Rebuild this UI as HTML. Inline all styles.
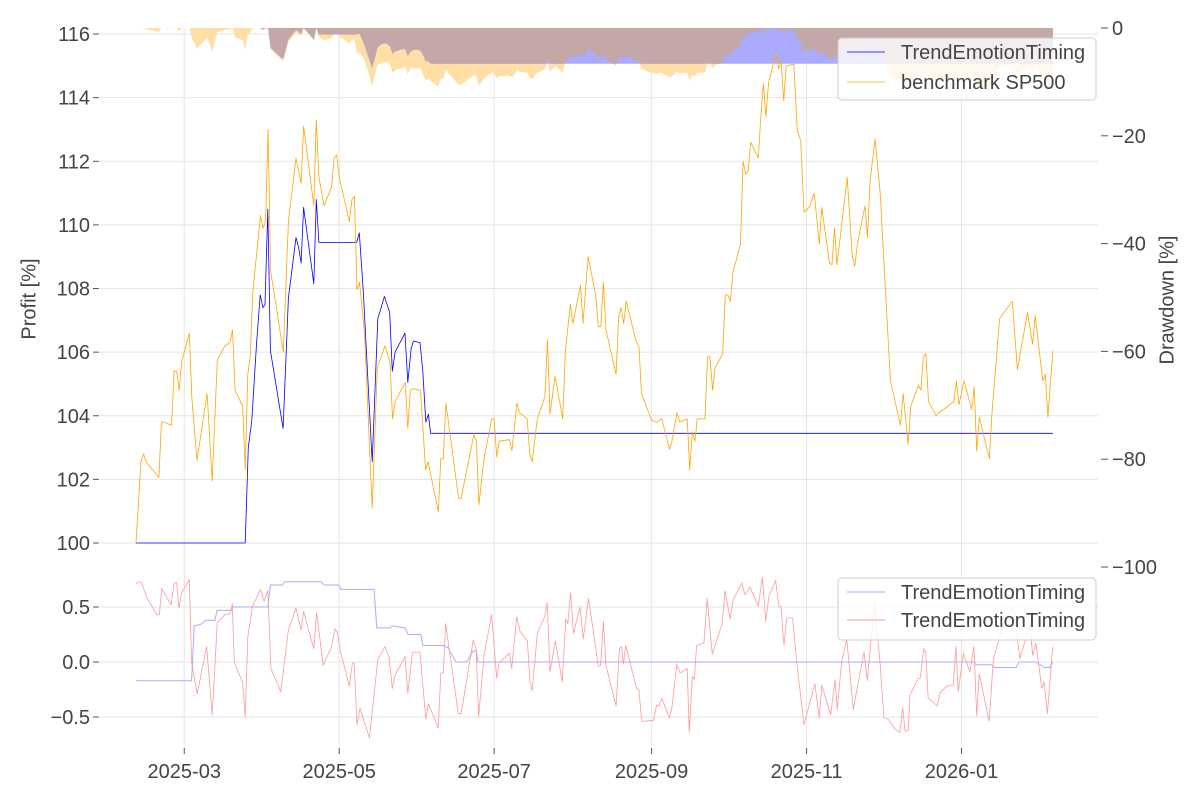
<!DOCTYPE html>
<html><head><meta charset="utf-8"><style>
body{margin:0;background:#fff;}
svg text{font-family:"Liberation Sans","DejaVu Sans",sans-serif;fill:#444;}
</style></head><body>
<svg id="chart" width="1200" height="800" viewBox="0 0 1200 800" xmlns="http://www.w3.org/2000/svg">
<defs>
<clipPath id="cMain"><rect x="100" y="28" width="998" height="532"/></clipPath>
<clipPath id="cSub"><rect x="100" y="568" width="998" height="178"/></clipPath>
</defs>
<g id="grid"></g>
<g id="dd" clip-path="url(#cMain)"></g>
<g id="main" clip-path="url(#cMain)"></g>
<g id="sub" clip-path="url(#cSub)"></g>
<g id="axes"></g>
<text transform="translate(30,299) rotate(-90)" text-anchor="middle" font-size="20" dominant-baseline="middle">Profit [%]</text>
<text transform="translate(1168,300) rotate(-90)" text-anchor="middle" font-size="20" dominant-baseline="middle">Drawdown [%]</text>
<g>
<rect x="838" y="38" width="258" height="62" rx="4" fill="#fff" fill-opacity="0.8" stroke="#ccc"/>
<g><line x1="847" y1="52" x2="885" y2="52" stroke="#0000ff" stroke-width="0.8"/><text x="901" y="59" font-size="20">TrendEmotionTiming</text></g>
<g><line x1="847" y1="82" x2="885" y2="82" stroke="#ffa500" stroke-width="0.8"/><text x="901" y="89" font-size="20">benchmark SP500</text></g>
</g>
<g>
<rect x="838" y="578" width="258" height="62" rx="4" fill="#fff" fill-opacity="0.8" stroke="#ccc"/>
<g><line x1="847" y1="592" x2="885" y2="592" stroke="#aaaaff" stroke-width="1"/><text x="901" y="599" font-size="20">TrendEmotionTiming</text></g>
<g><line x1="847" y1="620" x2="885" y2="620" stroke="#ff9999" stroke-width="1"/><text x="901" y="627" font-size="20">TrendEmotionTiming</text></g>
</g>
</svg>
<script>
// ---- data (day offsets from 2025-02-10) ----
const benchDays=[0,2,3,4,9,10,11,14,15,16,17,18,21,22,24,28,30,32,35,37,38,39,42,43,44,45,46,49,50,51,52,53,58,60,63,65,66,70,71,72,74,77,78,79,80,84,85,86,87,88,90,93,95,98,100,101,102,106,107,108,109,112,114,115,119,120,121,122,127,128,133,134,135,137,140,141,142,143,147,148,150,151,154,155,156,158,161,162,163,165,168,169,171,172,175,176,178,181,182,183,184,185,189,190,191,192,193,197,198,199,203,205,207,210,211,213,214,217,218,219,220,221,224,225,226,227,228,231,232,233,234,235,238,239,240,241,242,245,246,247,248,249,252,253,254,255,256,259,260.3,261.7,263,265,267,269,270,273,274,275,276,280,282,283,284,287,288,289,291,293,297,301,302,304,305,308,309,310,311,312,315,316,318,322,323,324,326,329,330,331,332,336,337,340,345,347,351,353,354,357,358,359,361];
const bench=[100,102.6,102.8,102.55,102.06,103.8,103.8,103.7,105.4,105.4,104.8,105.7,106.6,104.55,102.6,104.7,101.95,105.75,106.2,106.3,106.7,104.8,104.3,102.3,105.3,105.9,107.9,110.3,109.9,110.1,113.0,108.55,106.0,110.1,112.1,111.3,113.1,110.6,113.3,111.5,110.6,111.2,112.1,112.2,111.5,110.1,110.8,110.9,107.95,108.2,106.55,101.1,105.5,106.2,105.7,103.9,104.45,105.05,103.6,104.8,104.85,104.8,102.3,102.55,100.98,102.65,102.65,104.4,101.4,101.4,103.4,103.2,101.2,102.65,103.9,103.9,102.7,103.2,103.25,102.9,104.4,104.1,103.9,102.8,102.55,103.9,104.6,106.4,104.05,105.25,103.9,106.0,107.5,106.9,108.1,106.9,109.0,107.8,106.8,106.8,108.2,106.7,105.3,107.1,107.4,106.9,107.6,106.3,106.2,104.7,103.85,103.8,103.9,102.95,103.2,104.1,103.8,103.9,102.3,103.5,103.2,103.9,103.9,105.85,105.85,104.8,105.5,105.95,107.8,107.8,107.6,108.5,109.4,112.0,111.6,111.7,112.6,112.1,113.4,114.45,113.4,114.45,115.4,114.9,115.15,113.9,115.0,115.05,113.0,112.65,110.4,110.55,111.0,109.4,110.55,108.8,108.75,109.9,108.75,111.5,109.0,108.7,109.4,110.6,109.6,111.4,112.7,111.0,105.1,103.7,104.7,103.1,104.3,104.95,104.8,105.85,105.95,104.45,104.0,104.1,104.2,104.45,105.1,104.35,105.1,104.2,104.9,102.9,103.95,102.65,104.1,107.05,107.6,105.45,107.25,106.25,107.15,105.1,105.3,103.95,106.05];
const stratDays=[0,43.0,44.2,45.6,47.5,48.9,50.0,50.8,51.9,52.9,57.9,60.0,63.0,64.0,65.0,66.0,70.0,71.0,72.0,86.9,87.9,89.5,93.0,95.2,97.8,99.9,100.9,102.0,105.9,107.0,108.3,109.2,111.8,112.9,114.1,115.1,116.0,361];
const strat=[100,100,103.0,103.85,106.3,107.8,107.4,107.5,110.5,106.05,103.6,107.7,109.6,109.3,108.8,110.55,108.15,110.8,109.45,109.45,109.75,107.9,102.55,107.05,107.75,107.25,105.4,106.0,106.6,105.05,106.1,106.35,106.3,105.4,103.8,104.05,103.45,103.45];
const subBlueDays=[0,21.9,22.9,25.3,27.6,31.1,31.9,37.6,38.2,51.9,52.9,57.6,58.5,73.0,74.0,79.9,80.7,93.7,94.8,100.0,101.0,105.9,107.1,112.1,113.0,120.9,122.8,126.0,130.2,132.7,133.9,134.7,329.9,330.7,336.7,337.9,346.5,347.6,354.3,357.8,359.8,360.9];
const subBlue=[-0.17,-0.17,0.33,0.34,0.38,0.38,0.47,0.47,0.50,0.50,0.70,0.70,0.73,0.73,0.70,0.70,0.66,0.66,0.31,0.31,0.33,0.31,0.25,0.25,0.15,0.15,0.13,0.0,0.0,0.1,0.1,0.0,0.0,-0.025,-0.025,-0.05,-0.05,0.0,0.0,-0.05,-0.05,0.0];
const subRedDays=[0,1.3,2.2,4.2,8.1,9.2,10.1,13.8,15.0,16.0,16.9,18.0,21.0,21.9,24.1,27.8,30.0,32.0,35.0,37.0,37.9,38.7,42.0,43.0,44.0,45.9,49.1,50.4,51.9,53.1,57.0,60.0,63.0,65.0,66.0,70.0,71.1,73.7,77.0,78.3,79.3,80.3,84.0,85.2,85.9,87.0,88.2,91.9,95.2,98.0,99.6,100.9,102.0,105.9,107.0,108.9,111.8,114.1,115.1,119.0,120.0,121.0,121.9,126.9,128.0,132.8,133.9,134.9,137.0,140.0,142.0,142.9,147.0,147.9,149.9,151.2,154.1,155.1,156.0,158.0,161.0,161.9,163.0,165.1,167.8,169.2,170.0,171.1,172.2,174.8,176.1,178.1,180.0,182.0,182.9,184.0,185.0,189.0,190.3,191.2,191.9,192.8,197.1,198.0,199.1,203.7,205.0,205.9,207.0,210.0,210.9,212.9,214.2,217.0,217.8,219.0,219.8,220.7,223.6,224.9,226.9,230.8,231.9,233.9,235.2,238.5,239.8,241.7,245.0,246.6,247.9,249.2,251.8,253.1,253.9,255.1,256.2,258.5,260.1,263.0,267.3,269.0,270.0,273.5,275.2,276.1,277.8,279.8,282.4,284.4,286.6,287.9,290.7,292.9,294.5,296.2,298.8,300.8,301.8,302.8,304.1,304.7,308.0,308.7,310.2,310.9,311.9,315.5,316.5,319.2,321.8,322.8,323.7,325.7,328.3,329.9,331.0,332.0,335.9,337.5,341.2,345.4,348.0,352.0,353.0,354.3,356.6,357.5,358.8,360.9];
const subRed=[0.71,0.73,0.72,0.59,0.43,0.43,0.67,0.52,0.72,0.72,0.49,0.63,0.75,0.0,-0.29,0.14,-0.48,0.36,0.43,0.44,0.53,0.0,-0.19,-0.50,0.23,0.51,0.66,0.55,0.65,-0.06,-0.27,0.29,0.49,0.29,0.46,0.12,0.45,-0.03,0.14,0.30,0.27,0.11,-0.22,-0.01,-0.01,-0.57,-0.42,-0.69,0.02,0.14,0.05,-0.24,-0.12,0.05,-0.28,0.09,0.09,-0.52,-0.38,-0.60,-0.10,-0.10,0.35,-0.47,-0.47,0.20,0.12,-0.50,0.06,0.43,-0.15,-0.01,0.08,-0.06,0.41,0.28,0.19,-0.19,-0.26,0.26,0.42,0.54,-0.09,0.19,-0.18,0.39,0.35,0.63,0.26,0.50,0.21,0.58,0.29,-0.04,-0.03,0.37,-0.03,-0.40,0.12,0.14,-0.02,0.15,-0.24,-0.25,-0.54,-0.53,-0.39,-0.40,-0.33,-0.51,-0.43,-0.02,-0.10,-0.06,-0.64,-0.13,-0.16,0.15,0.17,0.58,0.07,0.35,0.65,0.39,0.57,0.72,0.61,0.68,0.51,0.77,0.37,0.60,0.74,0.51,0.50,0.15,0.40,0.40,0.0,-0.57,-0.20,-0.51,-0.21,-0.48,-0.16,-0.43,0.0,0.21,-0.43,-0.18,0.09,-0.17,0.53,0.0,-0.51,-0.52,-0.61,-0.64,-0.41,-0.63,-0.62,-0.30,-0.15,-0.15,0.12,0.09,-0.33,-0.40,-0.28,-0.22,-0.21,0.14,-0.27,0.08,-0.09,0.14,-0.49,-0.11,-0.54,0.02,0.32,0.51,0.03,0.35,0.06,0.17,-0.24,-0.18,-0.47,0.14];
const profitTicks=[100,102,104,106,108,110,112,114,116];
const ddTicks=[0,-20,-40,-60,-80,-100];
const subTicks=[0.5,0.0,-0.5];
const monthTicks=[["2025-03",19],["2025-05",80],["2025-07",141],["2025-09",203],["2025-11",264],["2026-01",325]];

// ---- scales ----
const X=d=>136+d*2.54;
const YP=v=>543-(v-100)*31.81;
const YD=v=>28-v*5.39;
const YS=v=>662-v*110;
const NS='http://www.w3.org/2000/svg';
function mk(tag,attrs,parent){const e=document.createElementNS(NS,tag);for(const k in attrs)e.setAttribute(k,attrs[k]);parent.appendChild(e);return e;}
const grid=document.getElementById('grid'),axes=document.getElementById('axes');

for(const t of profitTicks){
  const g=mk('line',{x1:100,x2:1098,y1:YP(t),y2:YP(t),stroke:'#e5e5e5','stroke-width':1},grid);
  
  
  const tk=mk('line',{x1:93,x2:99,y1:YP(t),y2:YP(t),stroke:'#555','stroke-width':1},axes);
  
  
  const tx=mk('text',{x:90,y:YP(t)+7,'text-anchor':'end','font-size':20},axes);
  tx.textContent=t;
  
  
}
for(const t of ddTicks){
  const tk=mk('line',{x1:1101,x2:1108,y1:YD(t),y2:YD(t),stroke:'#555','stroke-width':1},axes);
  
  
  const tx=mk('text',{x:1112,y:YD(t)+7,'font-size':20},axes);
  tx.textContent=(t<0?'\u2212'+(-t):t);
  
  
}
for(const t of subTicks){
  const g=mk('line',{x1:100,x2:1098,y1:YS(t),y2:YS(t),stroke:'#e5e5e5','stroke-width':1},grid);
  
  
  const tk=mk('line',{x1:93,x2:99,y1:YS(t),y2:YS(t),stroke:'#555','stroke-width':1},axes);
  
  
  const tx=mk('text',{x:90,y:YS(t)+7,'text-anchor':'end','font-size':20},axes);
  tx.textContent=(t<0?'\u2212'+(-t).toFixed(1):t.toFixed(1));
  
  
}
for(const [lab,d] of monthTicks){
  const g=mk('line',{x1:X(d),x2:X(d),y1:28,y2:746,stroke:'#e5e5e5','stroke-width':1},grid);
  
  
  const tk=mk('line',{x1:X(d),x2:X(d),y1:748,y2:754,stroke:'#555','stroke-width':1},axes);
  
  
  const tx=mk('text',{x:X(d),y:778,'text-anchor':'middle','font-size':20},axes);
  tx.textContent=lab;
  
  
}

// ---- drawdown computed from equity series ----
function interp(ds,vs,d){if(d<=ds[0])return vs[0];for(let i=1;i<ds.length;i++){if(d<=ds[i]){const t=(d-ds[i-1])/(ds[i]-ds[i-1]);return vs[i-1]+t*(vs[i]-vs[i-1]);}}return vs[vs.length-1];}
function drawdown(ds,vs){const out=[];let mx=-Infinity;for(let d=0;d<=361;d++){const v=interp(ds,vs,d);mx=Math.max(mx,v);out.push((v/mx-1)*100);}return out;}
const ddB=drawdown(benchDays,bench),ddS=drawdown(stratDays,strat);
const ddO=ddB.map((v,i)=>Math.max(v,ddS[i]));
function area(arr,fill,name){
  let p='M'+X(0)+','+YD(0);
  arr.forEach((v,i)=>{p+=' L'+X(i).toFixed(1)+','+YD(v).toFixed(1);});
  p+=' L'+X(arr.length-1)+','+YD(0)+' Z';
  const e=mk('path',{d:p,fill:fill,stroke:'none'},document.getElementById('dd'));
  
  
}
area(ddB,'#ffdfa6','drawdown-benchmark');
area(ddS,'#aaaaff','drawdown-strategy');
area(ddO,'#c4a8a8','drawdown-overlap');

function line(ds,vs,Y,color,w,parentId,name){
  const p=ds.map((d,i)=>(i?'L':'M')+X(d).toFixed(1)+','+Y(vs[i]).toFixed(1)).join(' ');
  const e=mk('path',{d:p,fill:'none',stroke:color,'stroke-width':w,'stroke-linejoin':'round'},document.getElementById(parentId));
  
  
}
line(stratDays,strat,YP,'#0000ff',0.8,'main','strategy-line');
line(benchDays,bench,YP,'#ffa500',0.8,'main','benchmark-line');
line(subBlueDays,subBlue,YS,'#aaaaff',1,'sub','sub-blue-line');
line(subRedDays,subRed,YS,'#ff9999',0.8,'sub','sub-red-line');
</script>
</body></html>
